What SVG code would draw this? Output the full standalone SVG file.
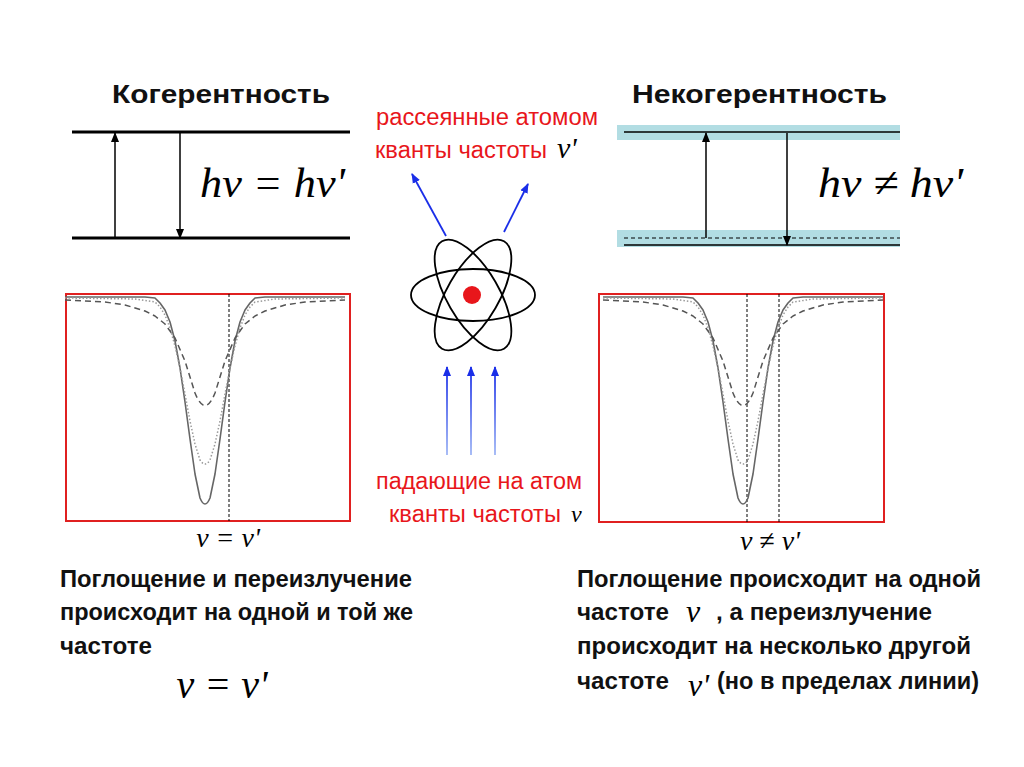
<svg xmlns="http://www.w3.org/2000/svg" width="1024" height="767" viewBox="0 0 1024 767">
<style>
.h{font-family:"Liberation Sans",Arial,sans-serif;font-weight:bold;font-size:26px;fill:#111}
.t{font-family:"Liberation Sans",Arial,sans-serif;font-weight:bold;font-size:23px;fill:#111}
.r{font-family:"Liberation Sans",Arial,sans-serif;font-size:23px;fill:#e8161b}
.m{font-family:"Liberation Serif","Times New Roman",serif;font-style:italic;fill:#000}
.lvl{stroke:#000;stroke-width:3}
.ar{stroke:#000;stroke-width:1.5;fill:none}
.fr{fill:#fff;stroke:#e02020;stroke-width:2}
.c{fill:none;stroke-linejoin:round}
</style>
<defs>
<marker id="ah" markerWidth="10" markerHeight="10" refX="9" refY="5" orient="auto" markerUnits="userSpaceOnUse"><path d="M0,1 L10,5 L0,9 Z" fill="#000"/></marker>
<marker id="bh" markerWidth="10" markerHeight="10" refX="9" refY="5" orient="auto" markerUnits="userSpaceOnUse"><path d="M0,1 L10,5 L0,9 Z" fill="#1a2ee8"/></marker>
<linearGradient id="bg" gradientUnits="userSpaceOnUse" x1="0" y1="455" x2="0" y2="367"><stop offset="0" stop-color="#9fb6f5"/><stop offset="1" stop-color="#1a2ee8"/></linearGradient>
<path id="cs" d="M-140,297 L-60,297 L-50,298 L-45,303 L-40,310 L-35,322 L-30,341 L-25,368 L-20,402 L-15,439 L-10,474 L-5,498 Q0,510 5,498 L10,474 L15,439 L20,402 L25,368 L30,341 L35,322 L40,310 L45,303 L50,298 L60,297 L140,297"/>
<path id="cd" d="M-140,298 L-70,299 L-50,302 L-45,307 L-40,315 L-35,328 L-30,346 L-25,368 L-20,394 L-15,421 L-10,444 L-5,460 Q0,468 5,460 L10,444 L15,421 L20,394 L25,368 L30,346 L35,328 L40,315 L45,307 L50,302 L70,299 L140,298"/>
<path id="cl" d="M-140,300 L-100,302 L-80,305 L-60,311 L-50,316 L-40,324 L-30,338 L-20,361 L-10,393 Q0,418 10,393 L20,361 L30,338 L40,324 L50,316 L60,311 L80,305 L100,302 L140,300"/>
</defs>

<g id="left-levels">
<text class="h" x="112" y="103" textLength="218" lengthAdjust="spacingAndGlyphs">Когерентность</text>
<line class="lvl" x1="72" y1="132" x2="350" y2="132"/>
<line class="lvl" x1="72" y1="238" x2="350" y2="238"/>
<text class="m" x="200" y="197" font-size="42" textLength="145" lengthAdjust="spacingAndGlyphs">hν = hν'</text>
</g>
<g id="right-levels">
<text class="h" x="632" y="103" textLength="255" lengthAdjust="spacingAndGlyphs">Некогерентность</text>
<rect x="617" y="125" width="283" height="15" fill="#b2dde3"/>
<rect x="617" y="230" width="283" height="17" fill="#b2dde3"/>
<line x1="624" y1="132" x2="900" y2="132" stroke="#000" stroke-width="1.5"/>
<line x1="624" y1="238" x2="900" y2="238" stroke="#000" stroke-width="1" stroke-dasharray="4,3"/>
<line x1="624" y1="245" x2="900" y2="245" stroke="#000" stroke-width="1.5"/>
<text class="m" x="818" y="197" font-size="42" textLength="145" lengthAdjust="spacingAndGlyphs">hν ≠ hν'</text>
</g>

<g id="connectors">
<line class="ar" x1="115" y1="238" x2="115" y2="133" marker-end="url(#ah)"/>
<line class="ar" x1="180" y1="133" x2="180" y2="238" marker-end="url(#ah)"/>
<line class="ar" x1="706" y1="238" x2="706" y2="133" marker-end="url(#ah)"/>
<line class="ar" x1="787" y1="133" x2="787" y2="245" marker-end="url(#ah)"/>
<line x1="447" y1="455" x2="447" y2="367" stroke="url(#bg)" stroke-width="1.8" marker-end="url(#bh)"/>
<line x1="471" y1="455" x2="471" y2="367" stroke="url(#bg)" stroke-width="1.8" marker-end="url(#bh)"/>
<line x1="495" y1="455" x2="495" y2="367" stroke="url(#bg)" stroke-width="1.8" marker-end="url(#bh)"/>
<line x1="446" y1="236" x2="412" y2="174" stroke="#1a2ee8" stroke-width="1.8" marker-end="url(#bh)"/>
<line x1="504" y1="232" x2="528" y2="184" stroke="#1a2ee8" stroke-width="1.8" marker-end="url(#bh)"/>
</g>

<g id="atom" fill="none" stroke="#000" stroke-width="1.8">
<ellipse cx="473" cy="295" rx="62" ry="26"/>
<ellipse cx="473" cy="295" rx="62" ry="26" transform="rotate(60 473 295)"/>
<ellipse cx="473" cy="295" rx="62" ry="26" transform="rotate(-60 473 295)"/>
<circle cx="472" cy="295" r="9" fill="#e8161b" stroke="none"/>
</g>

<g id="labels-center">
<text class="r" x="376" y="125" textLength="222" lengthAdjust="spacingAndGlyphs">рассеянные атомом</text>
<text class="r" x="375" y="158" textLength="172" lengthAdjust="spacingAndGlyphs">кванты частоты</text>
<text class="m" x="557" y="158" font-size="30">ν'</text>
<text class="r" x="376" y="489" textLength="206" lengthAdjust="spacingAndGlyphs">падающие на атом</text>
<text class="r" x="389" y="522" textLength="172" lengthAdjust="spacingAndGlyphs">кванты частоты</text>
<text class="m" x="571" y="522" font-size="24">ν</text>
</g>

<g id="plot-left">
<rect class="fr" x="66" y="294" width="284" height="227"/>
<line x1="229" y1="294" x2="229" y2="521" stroke="#000" stroke-width="1" stroke-dasharray="3,2"/>
<use href="#cs" transform="translate(205,0)" class="c" stroke="#666" stroke-width="1.6"/>
<use href="#cd" transform="translate(205,0)" class="c" stroke="#999" stroke-width="1.5" stroke-dasharray="1.5,2"/>
<use href="#cl" transform="translate(205,0)" class="c" stroke="#555" stroke-width="1.5" stroke-dasharray="6,4"/>
<text class="m" x="228" y="547" font-size="28" text-anchor="middle">ν = ν'</text>
</g>
<g id="plot-right">
<rect class="fr" x="599" y="294" width="285" height="228"/>
<line x1="747" y1="294" x2="747" y2="522" stroke="#000" stroke-width="1" stroke-dasharray="3,2"/>
<line x1="779" y1="294" x2="779" y2="522" stroke="#000" stroke-width="1" stroke-dasharray="3,2"/>
<use href="#cs" transform="translate(743,0)" class="c" stroke="#666" stroke-width="1.6"/>
<use href="#cd" transform="translate(743,0)" class="c" stroke="#999" stroke-width="1.5" stroke-dasharray="1.5,2"/>
<use href="#cl" transform="translate(743,0)" class="c" stroke="#555" stroke-width="1.5" stroke-dasharray="6,4"/>
<text class="m" x="770" y="550" font-size="28" text-anchor="middle">ν ≠ ν'</text>
</g>

<g id="text-left">
<text class="t" x="60" y="587" textLength="352" lengthAdjust="spacingAndGlyphs">Поглощение и переизлучение</text>
<text class="t" x="60" y="620" textLength="353" lengthAdjust="spacingAndGlyphs">происходит на одной и той же</text>
<text class="t" x="60" y="654" textLength="92" lengthAdjust="spacingAndGlyphs">частоте</text>
<text class="m" x="222" y="698" font-size="40" text-anchor="middle">ν = ν'</text>
</g>
<g id="text-right">
<text class="t" x="577" y="587" textLength="404" lengthAdjust="spacingAndGlyphs">Поглощение происходит на одной</text>
<text class="t" x="577" y="620" textLength="92" lengthAdjust="spacingAndGlyphs">частоте</text>
<text class="m" x="686" y="622" font-size="32">ν</text>
<text class="t" x="716" y="620" textLength="216" lengthAdjust="spacingAndGlyphs">, а переизлучение</text>
<text class="t" x="577" y="654" textLength="394" lengthAdjust="spacingAndGlyphs">происходит на несколько другой</text>
<text class="t" x="577" y="689" textLength="92" lengthAdjust="spacingAndGlyphs">частоте</text>
<text class="m" x="688" y="696" font-size="32">ν'</text>
<text class="t" x="717" y="689" textLength="262" lengthAdjust="spacingAndGlyphs">(но в пределах линии)</text>
</g>
</svg>
